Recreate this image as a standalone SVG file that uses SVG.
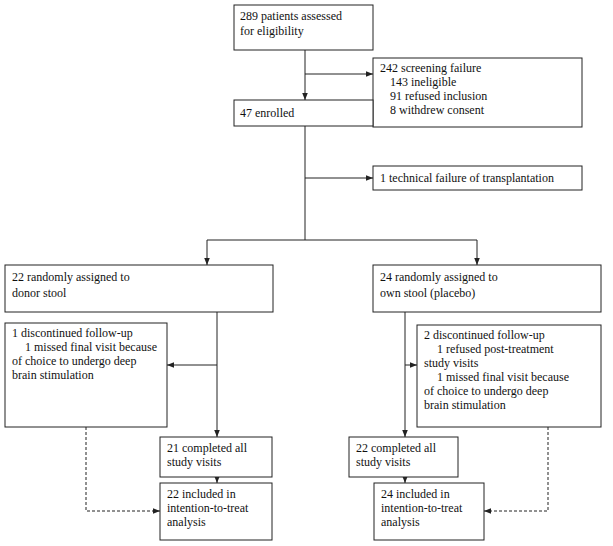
<svg xmlns="http://www.w3.org/2000/svg" width="613" height="546" viewBox="0 0 613 546">
<style>
rect{fill:#fff;stroke:#222;stroke-width:1}
text{font-family:"Liberation Serif",serif;font-size:12px;fill:#111}
.c line,.c path{stroke:#222;stroke-width:1;fill:none}
.d{stroke-dasharray:3,2}
</style>
<defs><marker id="a" viewBox="0 0 10 10" refX="10" refY="5" markerWidth="7" markerHeight="7" orient="auto"><path d="M0,1L10,5L0,9z" fill="#222"/></marker></defs>
<rect width="613" height="546" style="stroke:none"/>
<g class="c">
<line x1="305" y1="50" x2="305" y2="100" marker-end="url(#a)"/>
<line x1="305" y1="74" x2="373" y2="74" marker-end="url(#a)"/>
<line x1="305" y1="126" x2="305" y2="240"/>
<line x1="305" y1="178" x2="373" y2="178" marker-end="url(#a)"/>
<line x1="207" y1="240" x2="477" y2="240"/>
<line x1="207" y1="240" x2="207" y2="265" marker-end="url(#a)"/>
<line x1="477" y1="240" x2="477" y2="265" marker-end="url(#a)"/>
<line x1="217" y1="312" x2="217" y2="437" marker-end="url(#a)"/>
<line x1="217" y1="365" x2="167" y2="365" marker-end="url(#a)"/>
<line x1="217" y1="477" x2="217" y2="483" marker-end="url(#a)"/>
<line x1="405" y1="312" x2="405" y2="437" marker-end="url(#a)"/>
<line x1="405" y1="365" x2="417" y2="365" marker-end="url(#a)"/>
<line x1="405" y1="477" x2="405" y2="483" marker-end="url(#a)"/>
<path class="d" d="M86,427V511H160" marker-end="url(#a)"/>
<path class="d" d="M548,427V511H484" marker-end="url(#a)"/>
</g>
<g id="n1"><rect x="234" y="5" width="139" height="45"/><text x="240" y="20">289 patients assessed</text><text x="240" y="35">for eligibility</text></g>
<g id="n2"><rect x="373" y="58" width="209" height="69"/><text x="380" y="72">242 screening failure</text><text x="390" y="86">143 ineligible</text><text x="390" y="100">91 refused inclusion</text><text x="390" y="114">8 withdrew consent</text></g>
<g id="n3"><rect x="234" y="100" width="139" height="26"/><text x="240" y="117">47 enrolled</text></g>
<g id="n4"><rect x="373" y="166" width="209" height="24"/><text x="380" y="182">1 technical failure of transplantation</text></g>
<g id="n5"><rect x="5" y="265" width="268" height="47"/><text x="12" y="281">22 randomly assigned to</text><text x="12" y="297">donor stool</text></g>
<g id="n6"><rect x="373" y="265" width="228" height="47"/><text x="380" y="281">24 randomly assigned to</text><text x="380" y="297">own stool (placebo)</text></g>
<g id="n7"><rect x="5" y="323" width="162" height="104"/><text x="12" y="337">1 discontinued follow-up</text><text x="25" y="351">1 missed final visit because</text><text x="12" y="365">of choice to undergo deep</text><text x="12" y="379">brain stimulation</text></g>
<g id="n8"><rect x="417" y="325" width="184" height="102"/><text x="424" y="339">2 discontinued follow-up</text><text x="437" y="353">1 refused post-treatment</text><text x="424" y="367">study visits</text><text x="437" y="381">1 missed final visit because</text><text x="424" y="395">of choice to undergo deep</text><text x="424" y="409">brain stimulation</text></g>
<g id="n9"><rect x="160" y="437" width="112" height="40"/><text x="167" y="452">21 completed all</text><text x="167" y="466">study visits</text></g>
<g id="n10"><rect x="349" y="437" width="109" height="40"/><text x="356" y="452">22 completed all</text><text x="356" y="466">study visits</text></g>
<g id="n11"><rect x="160" y="483" width="112" height="57"/><text x="167" y="498">22 included in</text><text x="167" y="512">intention-to-treat</text><text x="167" y="526">analysis</text></g>
<g id="n12"><rect x="374" y="483" width="110" height="57"/><text x="381" y="498">24 included in</text><text x="381" y="512">intention-to-treat</text><text x="381" y="526">analysis</text></g>
</svg>
